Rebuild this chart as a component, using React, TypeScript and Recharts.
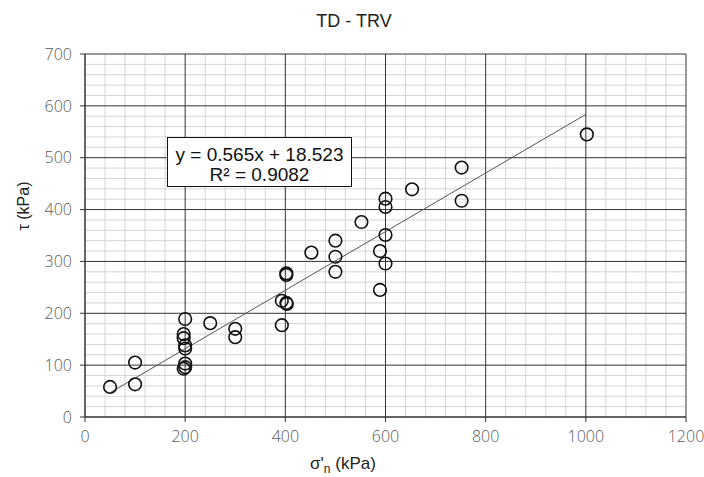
import React from 'react'
import {
  ScatterChart,
  Scatter,
  XAxis,
  YAxis,
  ReferenceLine,
} from 'recharts'

// normal stress σ'n (kPa)
const sigmaN = [
  50, 100, 100, 200, 197, 197, 200, 200, 200, 200, 197, 250, 300, 300,
  393, 393, 402, 403, 402, 402, 452, 500, 500, 500, 552, 589, 589, 600,
  600, 600, 600, 653, 752, 752, 1002,
]
// shear stress τ (kPa)
const tau = [
  58, 105, 63, 189, 160, 152, 138, 132, 103, 96, 93, 181, 170, 154,
  177, 224, 220, 218, 277, 274, 317, 340, 309, 280, 376, 320, 245, 421,
  405, 351, 296, 439, 481, 417, 545,
]

// linear trendline shown on the chart
const slope = 0.565
const intercept = 18.523
const trendX = [50, 1000]

const xTicks = [0, 200, 400, 600, 800, 1000, 1200]
const yTicks = [0, 100, 200, 300, 400, 500, 600, 700]
const xMinor = [40, 80, 120, 160, 240, 280, 320, 360, 440, 480, 520, 560, 640, 680, 720, 760, 840, 880, 920, 960, 1040, 1080, 1120, 1160]
const yMinor = [20, 40, 60, 80, 120, 140, 160, 180, 220, 240, 260, 280, 320, 340, 360, 380, 420, 440, 460, 480, 520, 540, 560, 580, 620, 640, 660, 680]

const points = sigmaN.map((x, i) => ({ x, y: tau[i] }))
const trend = trendX.map((x) => ({ x, y: slope * x + intercept }))

const tickStyle = { fill: '#5a5a5a', fontSize: 16, fontFamily: 'Open Sans', fontWeight: 300 }

const Ring = (props: any) => {
  const { cx, cy } = props
  if (cx == null || cy == null) return null
  return <circle cx={cx} cy={cy} r={6.3} fill="none" stroke="#111" strokeWidth={1.6} />
}

export default function App() {
  return (
    <div style={{ position: 'absolute', left: 0, top: 0, width: 704, height: 477, background: '#fff', fontFamily: 'Liberation Sans, Arial, sans-serif' }}>
      <div style={{ position: 'absolute', left: 254, width: 200, top: 11, textAlign: 'center', fontSize: 18, color: '#222' }}>
        TD - TRV
      </div>
      <ScatterChart width={704} height={477} margin={{ top: 54, right: 18, left: 0, bottom: 0 }}>
        {xMinor.map((v) => (
          <ReferenceLine key={'vx' + v} x={v} stroke="#d4d4d4" strokeWidth={1} />
        ))}
        {yMinor.map((v) => (
          <ReferenceLine key={'hy' + v} y={v} stroke="#d4d4d4" strokeWidth={1} />
        ))}
        {xTicks.slice(1).map((v) => (
          <ReferenceLine key={'VX' + v} x={v} stroke="#333" strokeWidth={1} />
        ))}
        {yTicks.slice(1).map((v) => (
          <ReferenceLine key={'HY' + v} y={v} stroke="#333" strokeWidth={1} />
        ))}
        <XAxis
          type="number"
          dataKey="x"
          domain={[0, 1200]}
          ticks={xTicks}
          height={60}
          tick={tickStyle}
          tickSize={5}
          tickMargin={9}
          axisLine={{ stroke: '#333', strokeWidth: 1.5 }}
          tickLine={{ stroke: '#333' }}
          allowDataOverflow
        />
        <YAxis
          type="number"
          dataKey="y"
          domain={[0, 700]}
          ticks={yTicks}
          width={85}
          tick={tickStyle}
          tickSize={5}
          tickMargin={8}
          axisLine={{ stroke: '#333', strokeWidth: 1.5 }}
          tickLine={{ stroke: '#333' }}
          allowDataOverflow
        />
        <Scatter data={trend} line={{ stroke: '#555', strokeWidth: 1 }} shape={() => null} isAnimationActive={false} />
        <Scatter data={points} shape={<Ring />} isAnimationActive={false} />
      </ScatterChart>
      <div style={{ position: 'absolute', left: 0, top: 454, width: 686, textAlign: 'center', fontSize: 17, color: '#222' }}>
        σ'<sub style={{ fontSize: 12 }}>n</sub> (kPa)
      </div>
      <div style={{ position: 'absolute', left: -15, top: 196, width: 80, height: 20, textAlign: 'center', fontSize: 16, color: '#222', transform: 'rotate(-90deg)' }}>
        τ (kPa)
      </div>
      <div style={{ position: 'absolute', left: 167, top: 137, width: 185, height: 50, border: '1.5px solid #111', background: '#fff', textAlign: 'center', fontSize: 19, lineHeight: '20px', color: '#111', paddingTop: 7, boxSizing: 'border-box' }}>
        y = 0.565x + 18.523
        <br />
        R² = 0.9082
      </div>
    </div>
  )
}
